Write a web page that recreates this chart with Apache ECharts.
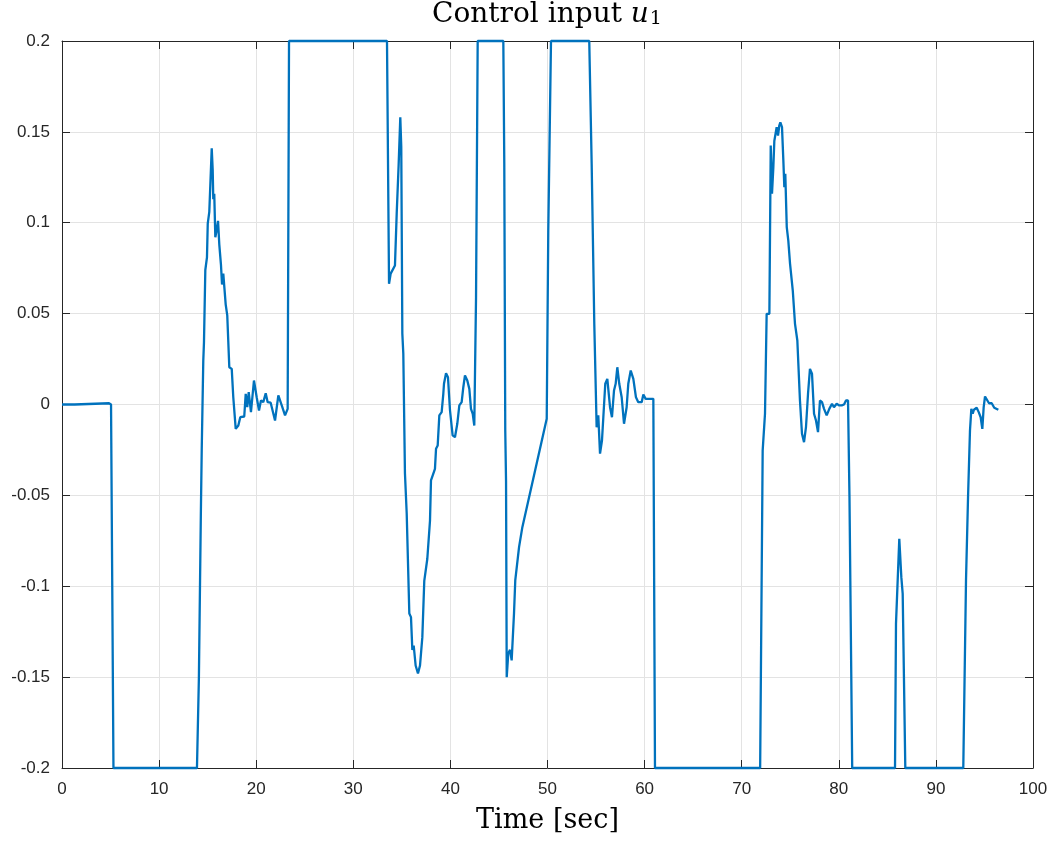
<!DOCTYPE html>
<html>
<head>
<meta charset="utf-8">
<script src="https://cdn.jsdelivr.net/npm/echarts@6/dist/echarts.min.js"></script>
<style>
  html, body { margin: 0; padding: 0; background: #fff; }
  #chart { width: 1055px; height: 842px; }
</style>
</head>
<body>
<div id="chart"></div>
<script>
// time samples [sec]
var timeSec = [
  0, 1.3, 1.35, 4.84, 5.05, 5.3, 13.9, 14.1, 14.3, 14.39, 14.55, 14.62, 14.76, 14.93, 15.01, 15.17,
  15.42, 15.52, 15.58, 15.68, 15.79, 15.93, 16.07, 16.2, 16.37, 16.48, 16.61, 16.86, 17.02, 17.23,
  17.48, 17.64, 17.89, 18.16, 18.36, 18.77, 18.92, 19.08, 19.23, 19.46, 19.77, 20.05, 20.29, 20.49,
  20.73, 20.98, 21.18, 21.49, 21.94, 22.28, 22.63, 22.97, 23.24, 23.38,
  33.47, 33.68, 33.85, 34.29, 34.47, 34.67, 34.84, 34.94, 35.05, 35.15, 35.32, 35.5, 35.77, 35.94,
  36.08, 36.22, 36.42, 36.66, 36.87, 37.11, 37.31, 37.62, 37.9, 38.0, 38.18, 38.41, 38.52, 38.69,
  38.86, 39.1, 39.27, 39.34, 39.55, 39.75, 39.96, 40.13, 40.23, 40.47, 40.71, 40.92, 41.16, 41.33,
  41.5, 41.74, 41.95, 42.12, 42.3, 42.46, 42.64, 42.81,
  45.45, 45.55, 45.65, 45.73, 45.8, 45.96, 46.14, 46.31, 46.55, 46.68, 47.07, 47.41, 49.92, 50.08, 50.36,
  54.3, 54.55, 54.82, 55.06, 55.23, 55.41, 55.61, 55.75, 55.95, 56.16, 56.44, 56.64, 56.85, 57.02,
  57.19, 57.39, 57.64, 57.88, 58.15, 58.32, 58.57, 58.84, 59.11, 59.35, 59.7, 59.87, 60.11, 60.9, 61.07,
  71.9, 72.16, 72.4, 72.57, 72.85, 72.99, 73.12, 73.26, 73.36, 73.5, 73.6, 73.74, 73.87, 73.98, 74.15,
  74.29, 74.39, 74.49, 74.64, 74.8, 74.98, 75.26, 75.49, 75.73, 76.0, 76.21, 76.42, 76.62, 76.83,
  77.03, 77.24, 77.45, 77.65, 77.86, 78.06, 78.27, 78.48, 78.75, 79.02, 79.3, 79.5, 79.78, 80.05,
  80.3, 80.54, 80.74, 80.88, 80.95, 81.1, 81.38,
  85.79, 85.89, 86.23, 86.44, 86.58, 86.85,
  92.82, 93.1, 93.31, 93.51, 93.65, 93.79, 93.92, 94.2, 94.41, 94.61, 94.78, 94.92, 95.06, 95.26,
  95.47, 95.75, 96.01, 96.43
];
// control input u1
var u1 = [
  0, 0, 0.0007, 0.0007, 0, -0.2, -0.2, -0.15, -0.06, -0.025, 0.024, 0.034, 0.074, 0.081, 0.0995, 0.106,
  0.141, 0.129, 0.113, 0.116, 0.092, 0.096, 0.101, 0.088, 0.077, 0.066, 0.072, 0.055, 0.049, 0.0205,
  0.0196, 0.004, -0.0134, -0.0116, -0.007, -0.0066, 0.0059, -0.0015, 0.0068, -0.0042, 0.0132, 0.004, -0.0033, 0.0022,
  0.0013, 0.0062, 0.0013, 0.001, -0.0088, 0.005, -0.0005, -0.006, -0.0024, 0.2,
  0.2, 0.0664, 0.072, 0.0765, 0.105, 0.132, 0.158, 0.1416, 0.039, 0.028, -0.038, -0.06, -0.115, -0.117,
  -0.135, -0.1326, -0.1436, -0.148, -0.1436, -0.128, -0.097, -0.085, -0.0638, -0.0418, -0.039, -0.0354, -0.0244, -0.0226,
  -0.006, -0.0042, 0.0059, 0.0114, 0.0172, 0.015, -0.0033, -0.0042, -0.017, -0.018, -0.0106, -0.0005, 0.0013, 0.0095,
  0.016, 0.0132, 0.0086, -0.0024, -0.0051, -0.0116, 0.059, 0.2,
  0.2, 0.132, -0.0143, -0.042, -0.15, -0.137, -0.135, -0.1408, -0.115, -0.0968, -0.0785, -0.0675, -0.0079, 0.0957, 0.2,
  0.2, 0.132, 0.044, -0.0125, -0.006, -0.027, -0.0198, -0.007, 0.0114, 0.0141, -0.0015, -0.007, 0.0077, 0.0114,
  0.0205, 0.0114, 0.004, -0.0106, -0.0015, 0.0114, 0.0187, 0.0141, 0.004, 0.0013, 0.0013, 0.0055, 0.0031, 0.0031, -0.2,
  -0.2, -0.0253, -0.005, 0.0499, 0.0499, 0.1425, 0.116, 0.1306, 0.145, 0.1443, 0.1526, 0.148, 0.1535, 0.1553, 0.1526,
  0.1342, 0.1196, 0.127, 0.0976, 0.0902, 0.0774, 0.0627, 0.0444, 0.0352, 0.0022, -0.0161, -0.0207, -0.0125, 0.0059,
  0.0196, 0.0169, -0.0051, -0.0088, -0.0152, 0.0022, 0.0013, -0.0024, -0.006, -0.0024, 0.0004, -0.0015, 0.0004, -0.0005,
  -0.0005, 0, 0.0022, 0.0013, 0.0022, -0.051, -0.2,
  -0.2, -0.1207, -0.0739, -0.095, -0.1042, -0.2,
  -0.2, -0.0968, -0.051, -0.0143, -0.0024, -0.0051, -0.0029, -0.0018, -0.0042, -0.007, -0.0134, -0.0015, 0.0044, 0.0037,
  0.0007, 0.0007, -0.0018, -0.0029
];

var xTicks = { min: 0, max: 100, step: 10 };
var yTicks = { min: -0.2, max: 0.2, step: 0.05 };

var seriesData = [];
for (var i = 0; i < timeSec.length; i++) {
  seriesData.push([timeSec[i], u1[i]]);
}

var axisColor = '#262626';
var labelFont = 'Liberation Sans, Arial, sans-serif';
var serifFont = 'DejaVu Serif, Liberation Serif, serif';

function baseAxis(range, pos, showLabel) {
  return {
    type: 'value',
    position: pos,
    min: range.min,
    max: range.max,
    interval: range.step,
    axisLine: { show: true, onZero: false, lineStyle: { color: axisColor, width: 1 } },
    axisTick: { show: true, inside: true, length: 8, lineStyle: { color: axisColor } },
    axisLabel: {
      show: showLabel,
      color: axisColor,
      fontFamily: labelFont,
      fontSize: 17,
      formatter: function (v) { return String(+v.toFixed(2)); }
    },
    splitLine: { show: showLabel, lineStyle: { color: '#e3e3e3', width: 1 } }
  };
}

var chart = echarts.init(document.getElementById('chart'), null, { renderer: 'canvas' });

var xMain = baseAxis(xTicks, 'bottom', true);
xMain.axisLabel.margin = 13;
xMain.name = 'Time [sec]';
xMain.nameLocation = 'middle';
xMain.nameGap = 39;
xMain.nameTextStyle = { fontFamily: serifFont, fontSize: 27, color: '#000' };

var yMain = baseAxis(yTicks, 'left', true);
yMain.axisLabel.margin = 12;

chart.setOption({
  backgroundColor: '#fff',
  animation: false,
  title: {
    text: 'Control input {i|u}{s|1}',
    left: 547,
    textAlign: 'center',
    top: 0,
    padding: 0,
    textStyle: {
      fontFamily: serifFont,
      fontSize: 28,
      fontWeight: 'normal',
      color: '#000',
      rich: {
        i: { fontFamily: serifFont, fontSize: 28, fontStyle: 'italic', color: '#000' },
        s: { fontFamily: serifFont, fontSize: 19, color: '#000', verticalAlign: 'bottom', padding: [10, 0, 0, 1] }
      }
    }
  },
  grid: { left: 62, right: 22, top: 41, bottom: 74, containLabel: false, outerBoundsMode: 'none' },
  xAxis: [xMain, baseAxis(xTicks, 'top', false)],
  yAxis: [yMain, baseAxis(yTicks, 'right', false)],
  series: [{
    type: 'line',
    data: seriesData,
    showSymbol: false,
    symbol: 'none',
    clip: false,
    lineStyle: { color: '#0072BD', width: 2.3 },
    itemStyle: { color: '#0072BD' }
  }]
});
</script>
</body>
</html>
